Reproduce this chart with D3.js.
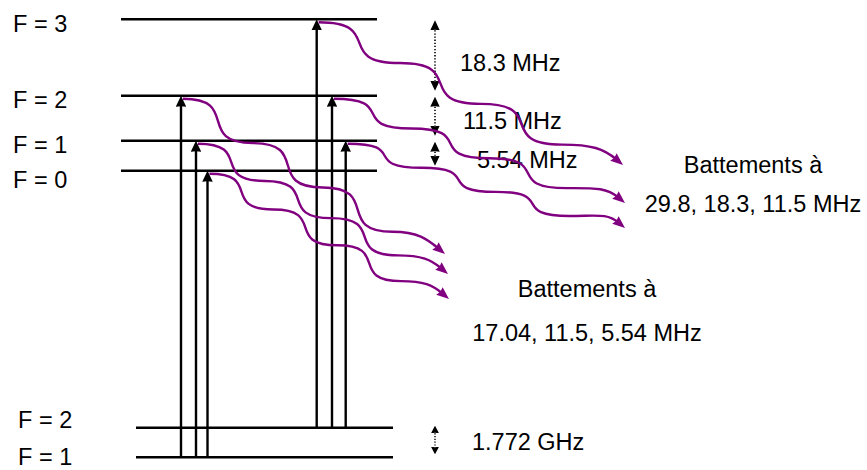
<!DOCTYPE html>
<html><head><meta charset="utf-8">
<script src="https://cdn.jsdelivr.net/npm/d3@7"></script>
<style>
html,body{margin:0;padding:0;background:#fff;}
svg{display:block;font-family:"Liberation Sans",Arial,sans-serif;}
</style></head><body>
<svg id="chart" width="867" height="470"></svg>
<script>
// ---------------- data ----------------
const groundF = [1, 2];
const groundEnergy = [0, 29.6];                 // schematic energy units
const excitedF = [0, 1, 2, 3];
const excitedEnergy = [286.6, 316.6, 361.6, 438];
const transitionFrom = [1, 1, 1, 2, 2, 2];
const transitionTo   = [2, 1, 0, 3, 2, 1];
const splittingLabels = ["5.54 MHz", "11.5 MHz", "18.3 MHz"]; // F=0-1, 1-2, 2-3
const groundSplittingLabel = "1.772 GHz";
const beatTitle = "Battements à";
const beatFrequencies = ["17.04, 11.5, 5.54 MHz", "29.8, 18.3, 11.5 MHz"];

// ---------------- layout ----------------
const W = 867, H = 470;
const svg = d3.select("#chart");
const y = d3.scaleLinear().domain([0, 438]).range([457.3, 19.3]);
const xT = d3.scaleOrdinal().domain(d3.range(6)).range([181, 196, 207.5, 316.7, 332, 345.7]);
const excitedX = [121, 377], groundX = [136, 393];
const waveEnds = [[445, 254], [448, 274], [449, 299], [623, 165], [625, 203], [625, 228]];
const PURPLE = "#800080";
const FS = 23.5;

const eOf = f => excitedEnergy[excitedF.indexOf(f)];
const gOf = f => groundEnergy[groundF.indexOf(f)];

// markers
const defs = svg.append("defs");
function marker(id, len, wid, refX, color, notch) {
  defs.append("marker").attr("id", id)
    .attr("markerUnits", "userSpaceOnUse")
    .attr("viewBox", `0 ${-wid/2} ${len} ${wid}`)
    .attr("markerWidth", len).attr("markerHeight", wid)
    .attr("refX", refX).attr("refY", 0)
    .attr("orient", "auto-start-reverse")
    .append("path")
    .attr("d", `M0,${-wid/2} L${len},0 L0,${wid/2} L${len*notch},0 Z`)
    .attr("fill", color).attr("stroke", "none");
}
marker("blk", 11, 10.5, 3, "#000", 0.05);
marker("dot", 10, 9.5, 0, "#000", 0.05);
marker("dotS", 7.5, 8, 0, "#000", 0.05);
marker("pur", 12.5, 10, 4, PURPLE, 0.1);

// level lines
svg.append("g").selectAll("line").data(excitedEnergy).join("line")
  .attr("x1", excitedX[0]).attr("x2", excitedX[1])
  .attr("y1", d => y(d)).attr("y2", d => y(d))
  .attr("stroke", "#000").attr("stroke-width", 2.4);
svg.append("g").selectAll("line").data(groundEnergy).join("line")
  .attr("x1", groundX[0]).attr("x2", groundX[1])
  .attr("y1", d => y(d)).attr("y2", d => y(d))
  .attr("stroke", "#000").attr("stroke-width", 2.4);

// level labels
const exLab = excitedF.map((f, i) => ({f, e: excitedEnergy[i]})).sort((a, b) => b.e - a.e);
let prev = -1e9;
exLab.forEach(d => { d.base = Math.max(y(d.e) + 12.4, prev + 35); prev = d.base; });
svg.append("g").selectAll("text").data(exLab).join("text")
  .attr("x", 13).attr("y", d => d.base).attr("font-size", FS)
  .text(d => "F = " + d.f);
const gLab = groundF.map((f, i) => ({f, e: groundEnergy[i]})).sort((a, b) => a.e - b.e);
prev = 1e9;
gLab.forEach(d => { d.base = Math.min(y(d.e) + 8, prev - 37); prev = d.base; });
svg.append("g").selectAll("text").data(gLab).join("text")
  .attr("x", 18).attr("y", d => d.base).attr("font-size", FS)
  .text(d => "F = " + d.f);

// excitation arrows
const trans = transitionFrom.map((f, i) => ({i, from: f, to: transitionTo[i]}));
svg.append("g").selectAll("line").data(trans).join("line")
  .attr("x1", d => xT(d.i)).attr("x2", d => xT(d.i))
  .attr("y1", d => y(gOf(d.from))).attr("y2", d => y(eOf(d.to)) + 8)
  .attr("stroke", "#000").attr("stroke-width", 2.4)
  .attr("marker-end", "url(#blk)");

// splitting double arrows (dotted)
const sepX = 435;
const seps = splittingLabels.map((lab, i) => ({lab, lo: excitedEnergy[i], hi: excitedEnergy[i + 1]}));
const labDX = [42, 28, 25];
const labDY = [12, 10.5, 13];
svg.append("g").selectAll("line").data(seps).join("line")
  .attr("x1", sepX).attr("x2", sepX)
  .attr("y1", d => y(d.hi) + 1 + 10).attr("y2", d => y(d.lo) - 5 - 10)
  .attr("stroke", "#000").attr("stroke-width", 1.6).attr("stroke-dasharray", "1.3,1.8")
  .attr("marker-start", "url(#dot)").attr("marker-end", "url(#dot)");
svg.append("g").selectAll("text").data(seps).join("text")
  .attr("x", (d, i) => sepX + labDX[i])
  .attr("y", (d, i) => (y(d.hi) + y(d.lo)) / 2 + labDY[i])
  .attr("font-size", FS).text(d => d.lab);

// ground splitting
svg.append("line")
  .attr("x1", sepX).attr("x2", sepX)
  .attr("y1", y(groundEnergy[1]) - 2 + 7.5).attr("y2", y(groundEnergy[0]) - 3 - 7.5)
  .attr("stroke", "#000").attr("stroke-width", 1.4).attr("stroke-dasharray", "1.2,1.6")
  .attr("marker-start", "url(#dotS)").attr("marker-end", "url(#dotS)");
svg.append("text").attr("x", 472)
  .attr("y", (y(groundEnergy[0]) + y(groundEnergy[1])) / 2 + 7.5)
  .attr("font-size", FS).text(groundSplittingLabel);

// beat labels
const beatAnchors = [[587, 297, 341], [753, 173, 212]];
beatFrequencies.forEach((fr, i) => {
  const [cx, y1, y2] = beatAnchors[i];
  svg.append("text").attr("x", cx).attr("y", y1).attr("text-anchor", "middle")
    .attr("font-size", FS).text(beatTitle);
  svg.append("text").attr("x", cx).attr("y", y2).attr("text-anchor", "middle")
    .attr("font-size", FS).text(fr);
});

// wavy emission lines
const endAngle = 40 * Math.PI / 180;
function stepWave(h) {
  return function(context) {
    let pts;
    return {
      areaStart() {}, areaEnd() {},
      lineStart() { pts = []; },
      point(px, py) { pts.push([+px, +py]); },
      lineEnd() {
        context.moveTo(pts[0][0], pts[0][1]);
        for (let k = 1; k < pts.length; k++) {
          const [x0, y0] = pts[k - 1], [x1, y1] = pts[k];
          const dx = x1 - x0;
          if (k < pts.length - 1) {
            context.bezierCurveTo(x0 + h * dx, y0, x1 - h * dx, y1, x1, y1);
          } else {
            const len = Math.hypot(x1 - x0, y1 - y0);
            context.bezierCurveTo(x0 + 0.55 * dx, y0,
              x1 - 0.3 * len * Math.cos(endAngle), y1 - 0.3 * len * Math.sin(endAngle), x1, y1);
          }
        }
      }
    };
  };
}
const waveLine = d3.line().curve(stepWave(0.82));
const waves = trans.map(d => {
  const S = [xT(d.i) + 2, y(eOf(d.to)) + 3];
  const T = waveEnds[d.i];
  const sx = (T[0] - S[0]) / 3.75, sy = (T[1] - S[1]) / 3.5;
  const pts = [S];
  for (let j = 1; j <= 3; j++) pts.push([S[0] + j * sx, S[1] + j * sy]);
  pts.push([T[0] - 8.5 * Math.cos(endAngle), T[1] - 8.5 * Math.sin(endAngle)]);
  return pts;
});
svg.append("g").selectAll("path").data(waves).join("path")
  .attr("d", waveLine)
  .attr("fill", "none").attr("stroke", PURPLE).attr("stroke-width", 2.4)
  .attr("marker-end", "url(#pur)");
</script>
</body></html>
